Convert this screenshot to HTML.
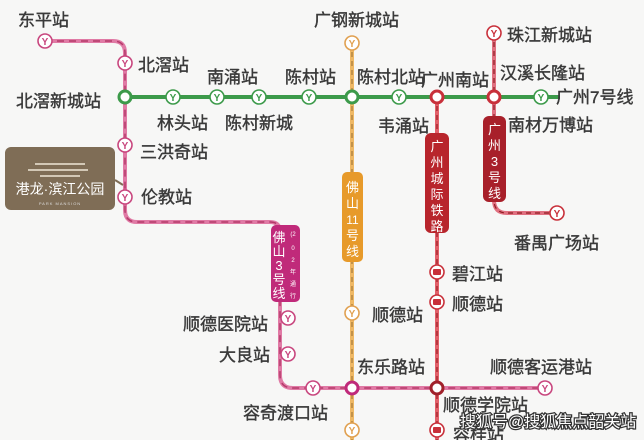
<!DOCTYPE html>
<html><head><meta charset="utf-8"><style>
html,body{margin:0;padding:0;background:#f7f7f6;}
svg{display:block;font-family:"Liberation Sans","Noto Sans CJK SC",sans-serif;}
.t{font-size:17px;fill:#3a3a3a;stroke:#3a3a3a;stroke-width:0.4;}
.y{font-size:10px;font-weight:bold;text-anchor:middle;}
</style></head><body>
<svg width="644" height="440" viewBox="0 0 644 440">
<rect width="644" height="440" fill="#f7f7f6"/>
<g fill="none" stroke-width="4">
<path d="M118 97 H560" stroke="#3c9a4a"/>
<path d="M45 41 H113 Q125 41 125 53 V210 Q125 222 137 222 H270 Q280 222 280 232 V375 Q280 388 293 388 H545" stroke="#e07aa5"/>
<path d="M45 41 H113 Q125 41 125 53 V210 Q125 222 137 222 H270 Q280 222 280 232 V375 Q280 388 293 388 H545" stroke="#b43a6a" stroke-width="1.5" stroke-dasharray="7 5"/>
<path d="M352 43 V440" stroke="#efb864"/>
<path d="M352 43 V440" stroke="#a47a3a" stroke-width="1.2" stroke-dasharray="5 4"/>
<path d="M437 97 V440" stroke="#e2606a"/>
<path d="M437 97 V440" stroke="#9a1e26" stroke-width="1.2" stroke-dasharray="5 4"/>
<path d="M494 33 V200 Q494 213 507 213 H557" stroke="#e07080"/>
<path d="M494 33 V200 Q494 213 507 213 H557" stroke="#8e1c22" stroke-width="1.2" stroke-dasharray="5 4"/>
</g>
<rect x="5" y="147" width="110" height="63" rx="6" fill="#7f6d56"/>
<path d="M115 180 l8 5" stroke="#7f6d56" stroke-width="2"/>
<path d="M35 164 h50 M28 170 h60 M40 176 h40" stroke="#efe6d6" stroke-width="1.5"/>
<text x="60" y="194" font-size="14" fill="#fff" text-anchor="middle">港龙·滨江公园</text>
<text x="60" y="205" font-size="4" fill="#ddd" text-anchor="middle" letter-spacing="1">PARK MANSION</text>
<rect x="271" y="225" width="29" height="77" rx="5" fill="#c02a7a"/>
<text x="279" y="242" font-size="13" fill="#fff" text-anchor="middle">佛</text>
<text x="279" y="256" font-size="13" fill="#fff" text-anchor="middle">山</text>
<text x="279" y="270" font-size="13" fill="#fff" text-anchor="middle">3</text>
<text x="279" y="284" font-size="13" fill="#fff" text-anchor="middle">号</text>
<text x="279" y="298" font-size="13" fill="#fff" text-anchor="middle">线</text>
<text x="293" y="236" font-size="6" fill="#fff" text-anchor="middle">(2</text>
<text x="293" y="250" font-size="6" fill="#fff" text-anchor="middle">0</text>
<text x="293" y="262" font-size="6" fill="#fff" text-anchor="middle">2</text>
<text x="293" y="274" font-size="6" fill="#fff" text-anchor="middle">年</text>
<text x="293" y="286" font-size="6" fill="#fff" text-anchor="middle">通</text>
<text x="293" y="298" font-size="6" fill="#fff" text-anchor="middle">行</text>
<rect x="342" y="172" width="21" height="90" rx="5" fill="#e79a2a"/>
<text x="352.5" y="192" font-size="13" fill="#fff" text-anchor="middle">佛</text>
<text x="352.5" y="208" font-size="13" fill="#fff" text-anchor="middle">山</text>
<text x="352.5" y="224" font-size="12" fill="#fff" text-anchor="middle">11</text>
<text x="352.5" y="240" font-size="13" fill="#fff" text-anchor="middle">号</text>
<text x="352.5" y="256" font-size="13" fill="#fff" text-anchor="middle">线</text>
<rect x="425" y="133" width="24" height="100" rx="6" fill="#b8252c"/>
<text x="437" y="151" font-size="13" fill="#fff" text-anchor="middle">广</text>
<text x="437" y="167" font-size="13" fill="#fff" text-anchor="middle">州</text>
<text x="437" y="183" font-size="13" fill="#fff" text-anchor="middle">城</text>
<text x="437" y="199" font-size="13" fill="#fff" text-anchor="middle">际</text>
<text x="437" y="215" font-size="13" fill="#fff" text-anchor="middle">铁</text>
<text x="437" y="231" font-size="13" fill="#fff" text-anchor="middle">路</text>
<rect x="483" y="116" width="23" height="86" rx="6" fill="#a8202a"/>
<text x="494.5" y="134" font-size="13" fill="#fff" text-anchor="middle">广</text>
<text x="494.5" y="150" font-size="13" fill="#fff" text-anchor="middle">州</text>
<text x="494.5" y="166" font-size="13" fill="#fff" text-anchor="middle">3</text>
<text x="494.5" y="182" font-size="13" fill="#fff" text-anchor="middle">号</text>
<text x="494.5" y="198" font-size="13" fill="#fff" text-anchor="middle">线</text>
<g stroke-width="1.6" fill="#fff">
<g stroke="#3c9a4a"><circle cx="173" cy="97" r="7"/><circle cx="217" cy="97" r="7"/><circle cx="259" cy="97" r="7"/><circle cx="309" cy="97" r="7"/><circle cx="399" cy="97" r="7"/><circle cx="541" cy="97" r="7"/></g>
<g stroke="#c8467e"><circle cx="45" cy="41" r="7"/><circle cx="125" cy="63" r="7"/><circle cx="125" cy="145" r="7"/><circle cx="125" cy="197" r="7"/><circle cx="288" cy="318" r="7"/><circle cx="288" cy="354" r="7"/><circle cx="313" cy="388" r="7"/><circle cx="545" cy="388" r="7"/></g>
<g stroke="#e0a050"><circle cx="352" cy="43" r="7"/><circle cx="352" cy="313" r="7"/><circle cx="352" cy="430" r="7"/></g>
<g stroke="#c8303a"><circle cx="494" cy="33" r="7"/><circle cx="557" cy="213" r="7"/><circle cx="437" cy="272" r="7"/><circle cx="437" cy="302" r="7"/><circle cx="437" cy="430" r="7"/></g>
</g>
<g class="y">
<text x="173" y="101" fill="#3c9a4a">Y</text><text x="217" y="101" fill="#3c9a4a">Y</text><text x="259" y="101" fill="#3c9a4a">Y</text><text x="309" y="101" fill="#3c9a4a">Y</text><text x="399" y="101" fill="#3c9a4a">Y</text><text x="541" y="101" fill="#3c9a4a">Y</text>
<text x="45" y="45" fill="#c8467e">Y</text><text x="125" y="67" fill="#c8467e">Y</text><text x="125" y="149" fill="#c8467e">Y</text><text x="125" y="201" fill="#c8467e">Y</text><text x="288" y="322" fill="#c8467e">Y</text><text x="288" y="358" fill="#c8467e">Y</text><text x="313" y="392" fill="#c8467e">Y</text><text x="545" y="392" fill="#c8467e">Y</text>
<text x="352" y="47" fill="#e0a050">Y</text><text x="352" y="317" fill="#e0a050">Y</text><text x="352" y="434" fill="#e0a050">Y</text>
<text x="494" y="37" fill="#c8303a">Y</text><text x="557" y="217" fill="#c8303a">Y</text>
</g>
<g fill="#c8303a"><rect x="433" y="269" width="8" height="6" rx="1"/><rect x="433" y="299" width="8" height="6" rx="1"/><rect x="433" y="427" width="8" height="6" rx="1"/></g>
<g stroke-width="3" fill="#fff">
<circle cx="125" cy="97" r="6" stroke="#3c9a4a"/><circle cx="352" cy="97" r="6" stroke="#3c9a4a"/><circle cx="437" cy="97" r="6" stroke="#c8303a"/><circle cx="494" cy="97" r="6" stroke="#c8303a"/>
<circle cx="352" cy="388" r="6" stroke="#c02a7a"/><circle cx="437" cy="388" r="6" stroke="#a0202a"/>
</g>
<g class="t">
<text x="18" y="26">东平站</text>
<text x="314" y="26">广钢新城站</text>
<text x="507" y="41">珠江新城站</text>
<text x="138" y="71">北滘站</text>
<text x="207" y="83">南涌站</text>
<text x="285" y="83">陈村站</text>
<text x="357" y="83">陈村北站</text>
<text x="421" y="86">广州南站</text>
<text x="500" y="79">汉溪长隆站</text>
<text x="556" y="103">广州7号线</text>
<text x="16" y="107">北滘新城站</text>
<text x="157" y="129">林头站</text>
<text x="225" y="129">陈村新城</text>
<text x="378" y="132">韦涌站</text>
<text x="508" y="131">南材万博站</text>
<text x="140" y="158">三洪奇站</text>
<text x="141" y="203">伦教站</text>
<text x="514" y="249">番禺广场站</text>
<text x="452" y="280">碧江站</text>
<text x="452" y="310">顺德站</text>
<text x="372" y="321">顺德站</text>
<text x="183" y="330">顺德医院站</text>
<text x="219" y="361">大良站</text>
<text x="357" y="373">东乐路站</text>
<text x="490" y="373">顺德客运港站</text>
<text x="243" y="419">容奇渡口站</text>
<text x="443" y="411">顺德学院站</text>
<text x="453" y="441">容桂站</text>
</g>
<text x="460" y="427" font-size="16" fill="#fff" stroke="#333" stroke-width="2.5" paint-order="stroke">搜狐号@搜狐焦点韶关站</text>
</svg>
</body></html>
